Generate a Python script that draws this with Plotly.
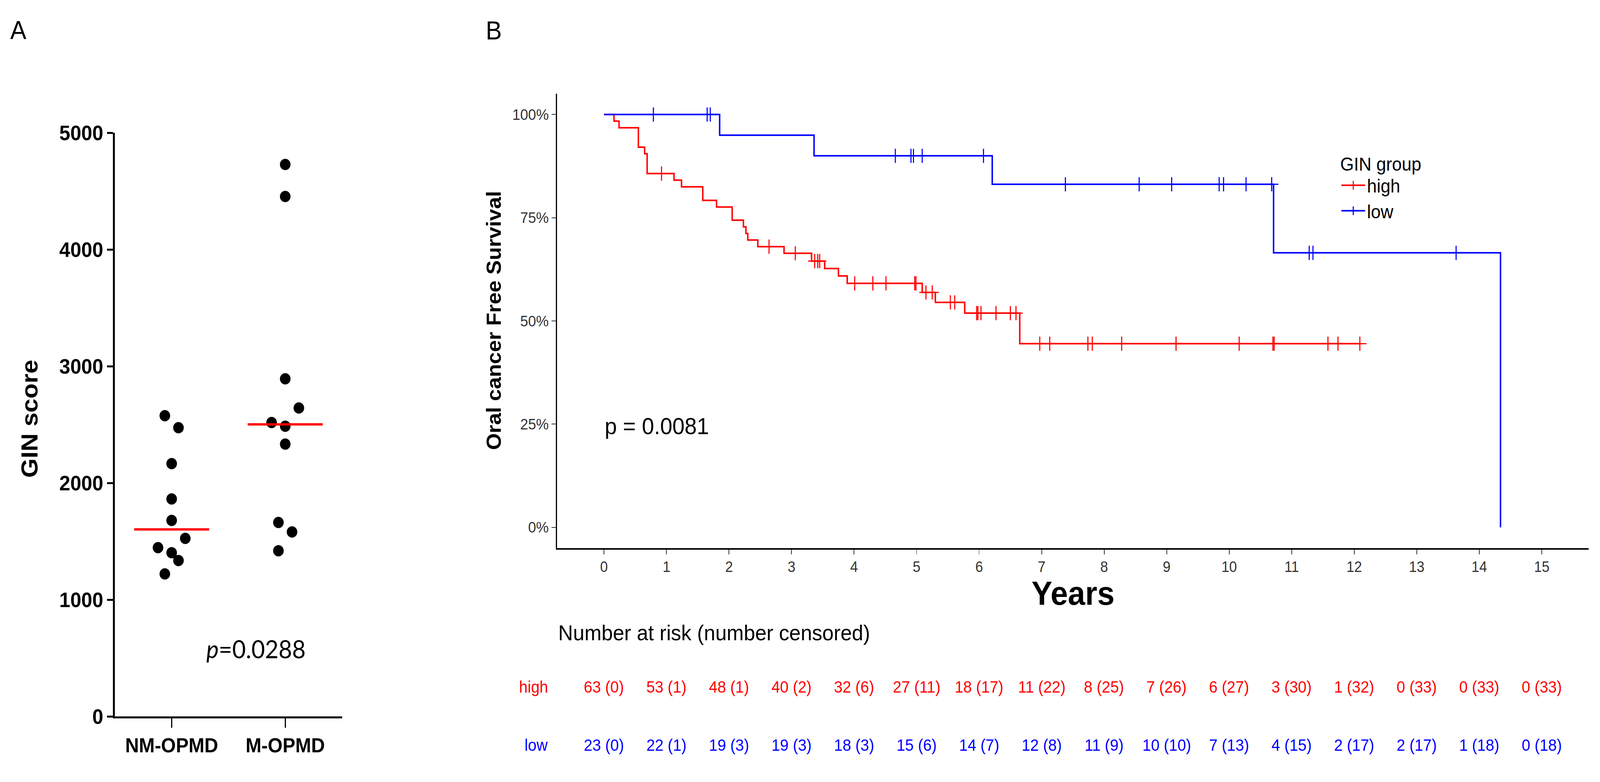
import numpy as np
import plotly.graph_objects as go

W, H = 4374, 2003

# ---------------- Panel A data ----------------
groups = ["NM-OPMD", "M-OPMD"]
nm_scores = [2577, 2474, 2167, 1864, 1680, 1526, 1447, 1403, 1336, 1222]
m_scores = [4730, 4455, 2893, 2643, 2519, 2487, 2334, 1662, 1581, 1420]
nm_jitter = [-0.06, 0.06, 0.0, 0.0, 0.0, 0.12, -0.12, 0.0, 0.06, -0.06]
m_jitter = [0.0, 0.0, 0.0, 0.12, -0.12, 0.0, 0.0, -0.06, 0.06, -0.06]
score_ticks = [0, 1000, 2000, 3000, 4000, 5000]

# ---------------- Panel B data ----------------
years = list(range(16))
pct_ticks = [0, 0.25, 0.5, 0.75, 1.0]
pct_labels = ["0%", "25%", "50%", "75%", "100%"]

high_step_t = [0, 0.16, 0.24, 0.55, 0.65, 0.69, 1.12, 1.24, 1.58, 1.80, 2.05, 2.23,
               2.27, 2.30, 2.46, 2.88, 3.32, 3.53, 3.75, 3.89, 5.09, 5.30, 5.77, 6.65, 12.10]
high_step_s = [1.0, 0.984, 0.968, 0.921, 0.905, 0.857, 0.841, 0.825, 0.792, 0.776, 0.744, 0.728,
               0.712, 0.696, 0.680, 0.664, 0.645, 0.627, 0.609, 0.591, 0.569, 0.545, 0.519, 0.445, 0.445]
high_censor_t = [0.92, 2.64, 3.06, 3.37, 3.42, 3.45, 4.01, 4.30, 4.51, 4.97, 4.99, 5.15, 5.25,
                 5.54, 5.61, 5.96, 5.98, 6.03, 6.27, 6.50, 6.59, 6.97, 7.13, 7.74, 7.81, 8.28,
                 9.15, 10.16, 10.70, 10.72, 11.58, 11.74, 12.09]

low_step_t = [0, 1.85, 3.36, 6.21, 10.71, 14.34]
low_step_s = [1.0, 0.95, 0.90, 0.831, 0.665, 0.0]
low_censor_t = [0.79, 1.65, 1.70, 4.66, 4.91, 4.95, 5.09, 6.07, 7.38, 8.56, 9.08, 9.84,
                9.91, 10.27, 10.68, 11.28, 11.34, 13.63]

high_risk = [63, 53, 48, 40, 32, 27, 18, 11, 8, 7, 6, 3, 1, 0, 0, 0]
high_cens = [0, 1, 1, 2, 6, 11, 17, 22, 25, 26, 27, 30, 32, 33, 33, 33]
low_risk = [23, 22, 19, 19, 18, 15, 14, 12, 11, 10, 7, 4, 2, 2, 1, 0]
low_cens = [0, 1, 3, 3, 3, 6, 7, 8, 9, 10, 13, 15, 17, 17, 18, 18]

RED = "#FF0000"
BLUE = "#0000FF"
AR = "Liberation Sans"


def px_x(p):
    return p / W


def px_y(p):
    return 1 - p / H


fig = go.Figure()

# ---------------- Panel A traces ----------------
for i, (vals, jit) in enumerate([(nm_scores, nm_jitter), (m_scores, m_jitter)]):
    fig.add_trace(go.Scatter(
        x=[i + j for j in jit], y=vals, mode="markers",
        marker=dict(color="black", size=29, line=dict(width=0)),
        showlegend=False, xaxis="x", yaxis="y", hoverinfo="skip"))
    med = float(np.median(vals))
    fig.add_trace(go.Scatter(
        x=[i - 0.33, i + 0.33], y=[med, med], mode="lines",
        line=dict(color=RED, width=6), showlegend=False,
        xaxis="x", yaxis="y", hoverinfo="skip"))


# ---------------- Panel B traces ----------------
def step_value(ts, ss, t):
    k = int(np.searchsorted(ts, t, side="right")) - 1
    return ss[k]


for name, ts, ss, cts, col in [("high", high_step_t, high_step_s, high_censor_t, RED),
                               ("low", low_step_t, low_step_s, low_censor_t, BLUE)]:
    fig.add_trace(go.Scatter(
        x=ts, y=ss, mode="lines", line=dict(shape="hv", color=col, width=4),
        showlegend=False, xaxis="x2", yaxis="y2", hoverinfo="skip"))
    fig.add_trace(go.Scatter(
        x=cts, y=[step_value(ts, ss, t) for t in cts], mode="markers",
        marker=dict(symbol="cross-thin", size=26, color=col, line=dict(color=col, width=3)),
        showlegend=False, xaxis="x2", yaxis="y2", hoverinfo="skip"))
    # legend-only entry
    fig.add_trace(go.Scatter(
        x=[None], y=[None], mode="lines+markers", name=name,
        line=dict(color=col, width=4),
        marker=dict(symbol="cross-thin", size=16, color=col, line=dict(color=col, width=3)),
        xaxis="x2", yaxis="y2"))

annotations = []
annotations.append(dict(text="A", x=px_x(50), y=px_y(48), xref="paper", yref="paper",
                        showarrow=False, font=dict(family=AR, size=66, color="black"),
                        xanchor="center", yanchor="middle"))
annotations.append(dict(text="B", x=px_x(1350), y=px_y(49), xref="paper", yref="paper",
                        showarrow=False, font=dict(family=AR, size=66, color="black"),
                        xanchor="center", yanchor="middle"))
annotations.append(dict(text="<b>GIN score</b>", x=px_x(80), y=px_y(1075), xref="paper", yref="paper",
                        showarrow=False, textangle=-90, font=dict(family=AR, size=64, color="black"),
                        xanchor="center", yanchor="middle"))
annotations.append(dict(text="<i>p</i>=0.0288", x=px_x(700), y=px_y(1682), xref="paper", yref="paper",
                        showarrow=False, font=dict(family="Lato", size=64, color="black"),
                        xanchor="center", yanchor="middle"))
annotations.append(dict(text="<b>Oral cancer Free Survival</b>", x=px_x(1350), y=px_y(816),
                        xref="paper", yref="paper", showarrow=False, textangle=-90,
                        font=dict(family=AR, size=55, color="black"),
                        xanchor="center", yanchor="middle"))
annotations.append(dict(text="<b>Years</b>", x=px_x(2933), y=px_y(1535), xref="paper", yref="paper",
                        showarrow=False, font=dict(family=AR, size=85, color="black"),
                        xanchor="center", yanchor="middle"))
annotations.append(dict(text="p = 0.0081", x=0, y=0.245, xref="x2", yref="y2",
                        showarrow=False, font=dict(family=AR, size=60, color="black"),
                        xanchor="left", yanchor="middle"))
annotations.append(dict(text="Number at risk (number censored)", x=px_x(1524), y=px_y(1640),
                        xref="paper", yref="paper", showarrow=False,
                        font=dict(family=AR, size=56, color="black"),
                        xanchor="left", yanchor="middle"))
for name, risk, cens, col, ypx in [("high", high_risk, high_cens, RED, 1783),
                                   ("low", low_risk, low_cens, BLUE, 1937)]:
    annotations.append(dict(text=name, x=px_x(1500), y=px_y(ypx), xref="paper", yref="paper",
                            showarrow=False, font=dict(family=AR, size=42, color=col),
                            xanchor="right", yanchor="middle"))
    for yr, r, c in zip(years, risk, cens):
        annotations.append(dict(text=f"{r} ({c})", x=yr, y=px_y(ypx), xref="x2", yref="paper",
                                showarrow=False, font=dict(family=AR, size=42, color=col),
                                xanchor="center", yanchor="middle"))

fig.update_layout(
    width=W, height=H, autosize=False,
    margin=dict(l=0, r=0, t=0, b=0, pad=0),
    paper_bgcolor="white", plot_bgcolor="white",
    xaxis=dict(domain=[px_x(314), px_x(935)], range=[-0.5, 1.5], tickvals=[0, 1], ticktext=groups,
               showline=True, linewidth=5, linecolor="black", ticks="outside", ticklen=24,
               tickwidth=3, tickcolor="black", showgrid=False, zeroline=False, anchor="y",
               tickfont=dict(family=AR, size=52, color="black", weight="bold"), fixedrange=True),
    yaxis=dict(domain=[px_y(1861), px_y(320)], range=[0, 5000], tickvals=score_ticks,
               showline=True, linewidth=5, linecolor="black", ticks="outside", ticklen=16,
               tickwidth=5, tickcolor="black", showgrid=False, zeroline=False, anchor="x",
               tickfont=dict(family=AR, size=54, color="black", weight="bold"), fixedrange=True),
    xaxis2=dict(domain=[px_x(1523), px_x(4343)], range=[-0.75, 15.75], tickvals=years,
                showline=True, linewidth=4, linecolor="black", ticks="outside", ticklen=12,
                tickwidth=2, tickcolor="#333333", showgrid=False, zeroline=False, anchor="y2",
                tickfont=dict(family=AR, size=38, color="#333333"), fixedrange=True),
    yaxis2=dict(domain=[px_y(1416), px_y(217)], range=[-0.05, 1.05], tickvals=pct_ticks,
                ticktext=pct_labels, showline=True, linewidth=3, linecolor="black",
                ticks="outside", ticklen=12, tickwidth=2, tickcolor="#333333", showgrid=False,
                zeroline=False, anchor="x2",
                tickfont=dict(family=AR, size=39, color="#333333"), fixedrange=True),
    legend=dict(x=px_x(3662), y=px_y(355), xanchor="left", yanchor="top",
                title=dict(text="GIN group", font=dict(family=AR, size=48, color="black")),
                font=dict(family=AR, size=48, color="black"), bgcolor="rgba(0,0,0,0)",
                itemwidth=65, tracegroupgap=0),
    annotations=annotations,
    showlegend=True,
)

# Fit the fixed-size figure to whatever viewport the browser provides.
fit_js = (
    "var gd=document.getElementById('{plot_id}');"
    "document.documentElement.style.margin='0';document.body.style.margin='0';"
    "document.body.style.padding='0';"
    "document.documentElement.style.overflow='hidden';document.body.style.overflow='hidden';"
    "var sx=window.innerWidth/" + str(W) + ",sy=window.innerHeight/" + str(H) + ";"
    "gd.style.transformOrigin='0 0';gd.style.transform='scale('+sx+','+sy+')';"
)

fig.write_html("out.html", config={"displayModeBar": False, "staticPlot": True},
               post_script=fit_js)
